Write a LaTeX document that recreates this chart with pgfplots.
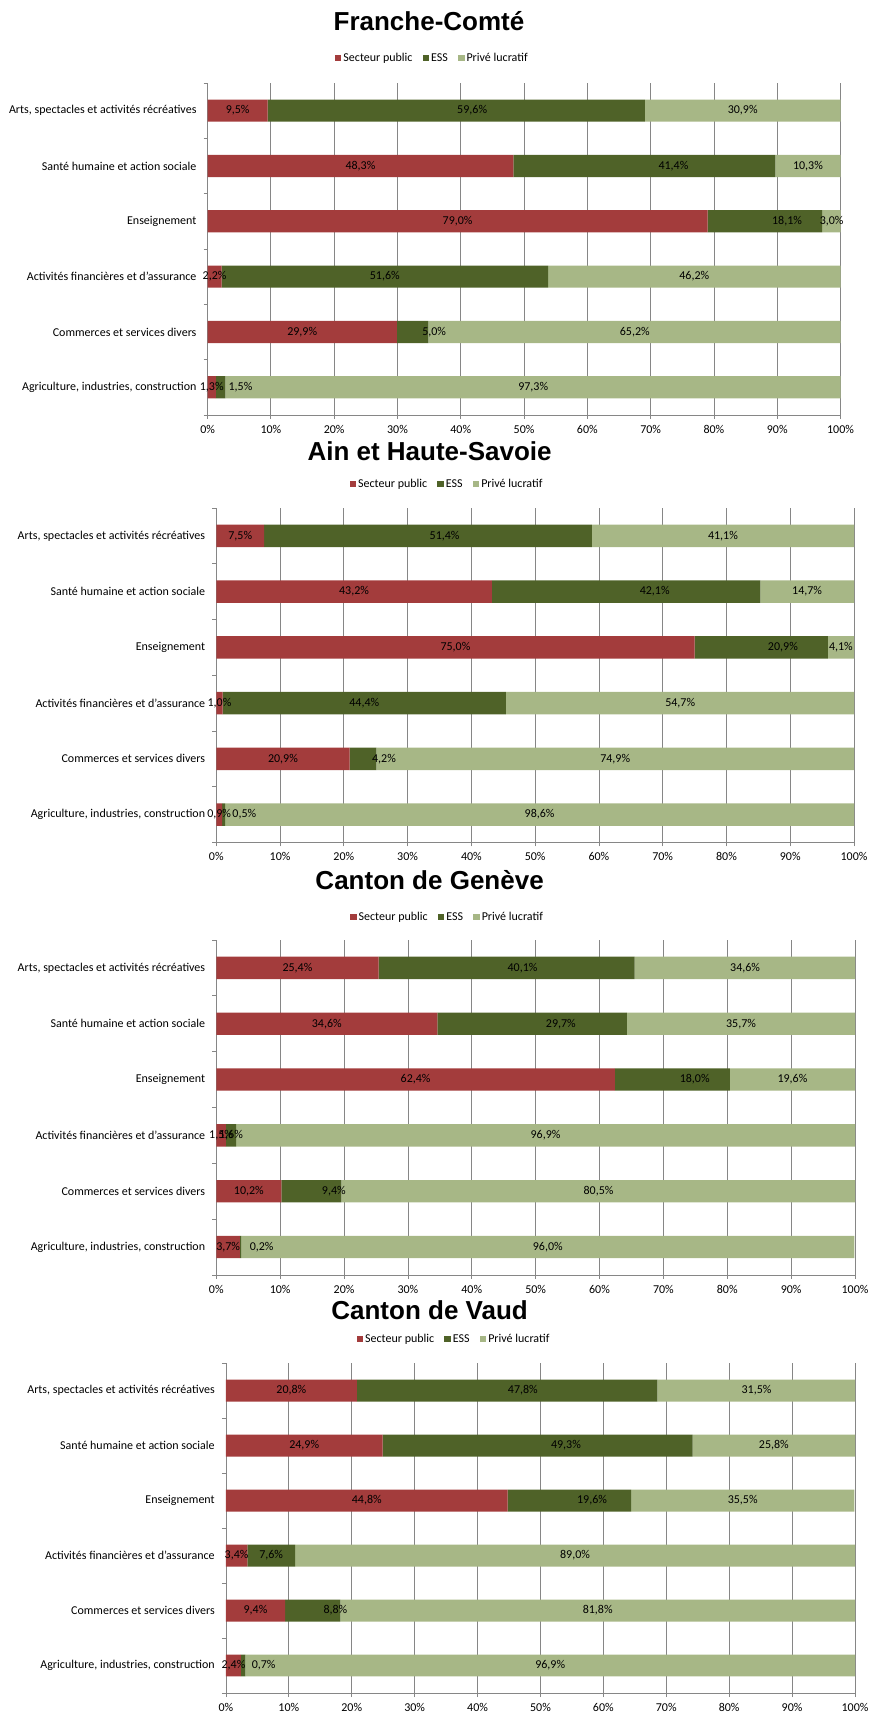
\documentclass[border=0pt]{standalone}
\usepackage{pgfplots}
\pgfplotsset{compat=1.18}
\usepackage{pgfplotstable}
\usepackage{fontspec}
\setmainfont{Carlito}
\newfontfamily\titlefont{Liberation Sans}

\definecolor{pub}{RGB}{163,60,60}
\definecolor{ess}{RGB}{79,98,40}
\definecolor{priv}{RGB}{167,183,134}
\definecolor{gridgray}{RGB}{134,134,134}

\newcommand{\lbl}{\fontsize{12}{14}\selectfont}

% rows: 0 Agriculture ... 5 Arts; eoff = how far the ESS label sits right of its segment centre
\pgfplotstableread{
idx pub ess priv eoff
0 1.3 1.5 97.3 3.15
1 29.9 5.0 65.2 3.4
2 2.2 51.6 46.2 0
3 79.0 18.1 3.0 3.5
4 48.3 41.4 10.3 4.6
5 9.5 59.6 30.9 2.5
}\franche
\pgfplotstableread{
idx pub ess priv eoff
0 0.9 0.5 98.6 3.25
1 20.9 4.2 74.9 3.3
2 1.0 44.4 54.7 0
3 75.0 20.9 4.1 3.4
4 43.2 42.1 14.7 4.5
5 7.5 51.4 41.1 2.6
}\ain
\pgfplotstableread{
idx pub ess priv eoff
0 3.7 0.2 96.0 3.3
1 10.2 9.4 80.5 3.5
2 1.5 1.6 96.9 0
3 62.4 18.0 19.6 3.5
4 34.6 29.7 35.7 4.5
5 25.4 40.1 34.6 2.5
}\geneve
\pgfplotstableread{
idx pub ess priv eoff
0 2.4 0.7 96.9 3.25
1 9.4 8.8 81.8 3.6
2 3.4 7.6 89.0 0
3 44.8 19.6 35.5 3.6
4 24.9 49.3 25.8 4.5
5 20.8 47.8 31.5 2.5
}\vaud

\pgfplotsset{
  panel/.style={
    scale only axis,
    anchor=south west,
    xbar stacked,
    bar width=0.4,
    xmin=0, xmax=100,
    ymin=-0.5, ymax=5.5,
    xtick={0,10,...,100},
    xticklabels={0\%,10\%,20\%,30\%,40\%,50\%,60\%,70\%,80\%,90\%,100\%},
    ytick={0,...,5},
    yticklabels={{Agriculture, industries, construction},{Commerces et services divers},{Activités financières et d'assurance},Enseignement,{Santé humaine et action sociale},{Arts, spectacles et activités récréatives}},
    minor ytick={-0.5,0.5,...,5.5},
    tick align=outside,
    major tick length=4pt, minor tick length=4pt,
    every major y tick/.append style={draw=none},
    tick style={draw=gridgray, line width=0.8pt},
    xmajorgrids,
    grid style={draw=gridgray, line width=0.8pt},
    axis lines*=left,
    axis line style={draw=gridgray, line width=0.8pt, -},
    ticklabel style={font=\lbl, text=black},
    yticklabel style={inner sep=0pt, xshift=-7pt},
    xticklabel style={inner sep=0pt, yshift=-6pt},
    legend columns=3,
    legend style={draw=none, fill=none, font=\lbl, anchor=center, inner sep=0pt,
      /tikz/every even column/.append style={column sep=8pt}},
    legend image code/.code={\fill[##1] (0pt,-3.3pt) rectangle (6.6pt,3.3pt);},
    title style={anchor=center, font=\titlefont\bfseries\fontsize{26}{30}\selectfont},
  },
  sp/.style={fill=pub, draw=none},
  se/.style={fill=ess, draw=none},
  sv/.style={fill=priv, draw=none},
  % overlay axis carrying the data labels
  labaxis/.style={scale only axis, anchor=south west, xmin=0, xmax=100,
    ymin=-0.5, ymax=5.5, hide axis, clip=false},
  lab/.style={only marks, mark=none, point meta=explicit,
    nodes near coords={\pgfmathprintnumber[fixed,fixed zerofill,precision=1,use comma,assume math mode=true]{\pgfplotspointmeta}\%},
    every node near coord/.append style={font=\lbl, text=black, anchor=center, inner sep=0pt}},
}

\newcommand{\bars}[1]{%
  \addplot[sp] table[x=pub,y=idx]{#1};
  \addplot[se] table[x=ess,y=idx]{#1};
  \addplot[sv] table[x=priv,y=idx]{#1};
  \legend{Secteur public,ESS,Privé lucratif}}
\newcommand{\labels}[1]{%
  \addplot[lab] table[x expr=0.5*\thisrow{pub}, y=idx, meta=pub]{#1};
  \addplot[lab] table[x expr=\thisrow{pub}+0.5*\thisrow{ess}+\thisrow{eoff}, y=idx, meta=ess]{#1};
  \addplot[lab] table[x expr=\thisrow{pub}+\thisrow{ess}+0.5*\thisrow{priv}, y=idx, meta=priv]{#1};}

\begin{document}
\begin{tikzpicture}
\path[use as bounding box] (0pt,0pt) rectangle (868pt,1715pt);

\begin{axis}[panel, at={(207.6pt,1300pt)}, width=632.9pt, height=332pt,
  title={Franche-Comté},
  title style={at={(axis description cs:0.3498,1.1687)}},
  legend style={at={(axis description cs:0.355,1.0753)}}]
\bars{\franche}
\end{axis}
\begin{axis}[labaxis, at={(207.6pt,1300pt)}, width=632.9pt, height=332pt]
\labels{\franche}
\end{axis}

\begin{axis}[panel, at={(216.3pt,872.5pt)}, width=637.7pt, height=334.5pt,
  title={Ain et Haute-Savoie},
  title style={at={(axis description cs:0.3345,1.1525)}},
  legend style={at={(axis description cs:0.3618,1.0717)}}]
\bars{\ain}
\end{axis}
\begin{axis}[labaxis, at={(216.3pt,872.5pt)}, width=637.7pt, height=334.5pt]
\labels{\ain}
\end{axis}

\begin{axis}[panel, at={(216.3pt,440pt)}, width=638.7pt, height=335pt,
  title={Canton de Genève},
  title style={at={(axis description cs:0.334,1.161)}},
  legend style={at={(axis description cs:0.362,1.0687)}}]
\bars{\geneve}
\end{axis}
\begin{axis}[labaxis, at={(216.3pt,440pt)}, width=638.7pt, height=335pt]
\labels{\geneve}
\end{axis}

\begin{axis}[panel, at={(225.9pt,22pt)}, width=629.1pt, height=330pt,
  title={Canton de Vaud},
  title style={at={(axis description cs:0.3238,1.1424)}},
  legend style={at={(axis description cs:0.3626,1.0727)}}]
\bars{\vaud}
\end{axis}
\begin{axis}[labaxis, at={(225.9pt,22pt)}, width=629.1pt, height=330pt]
\labels{\vaud}
\end{axis}
\end{tikzpicture}
\end{document}
